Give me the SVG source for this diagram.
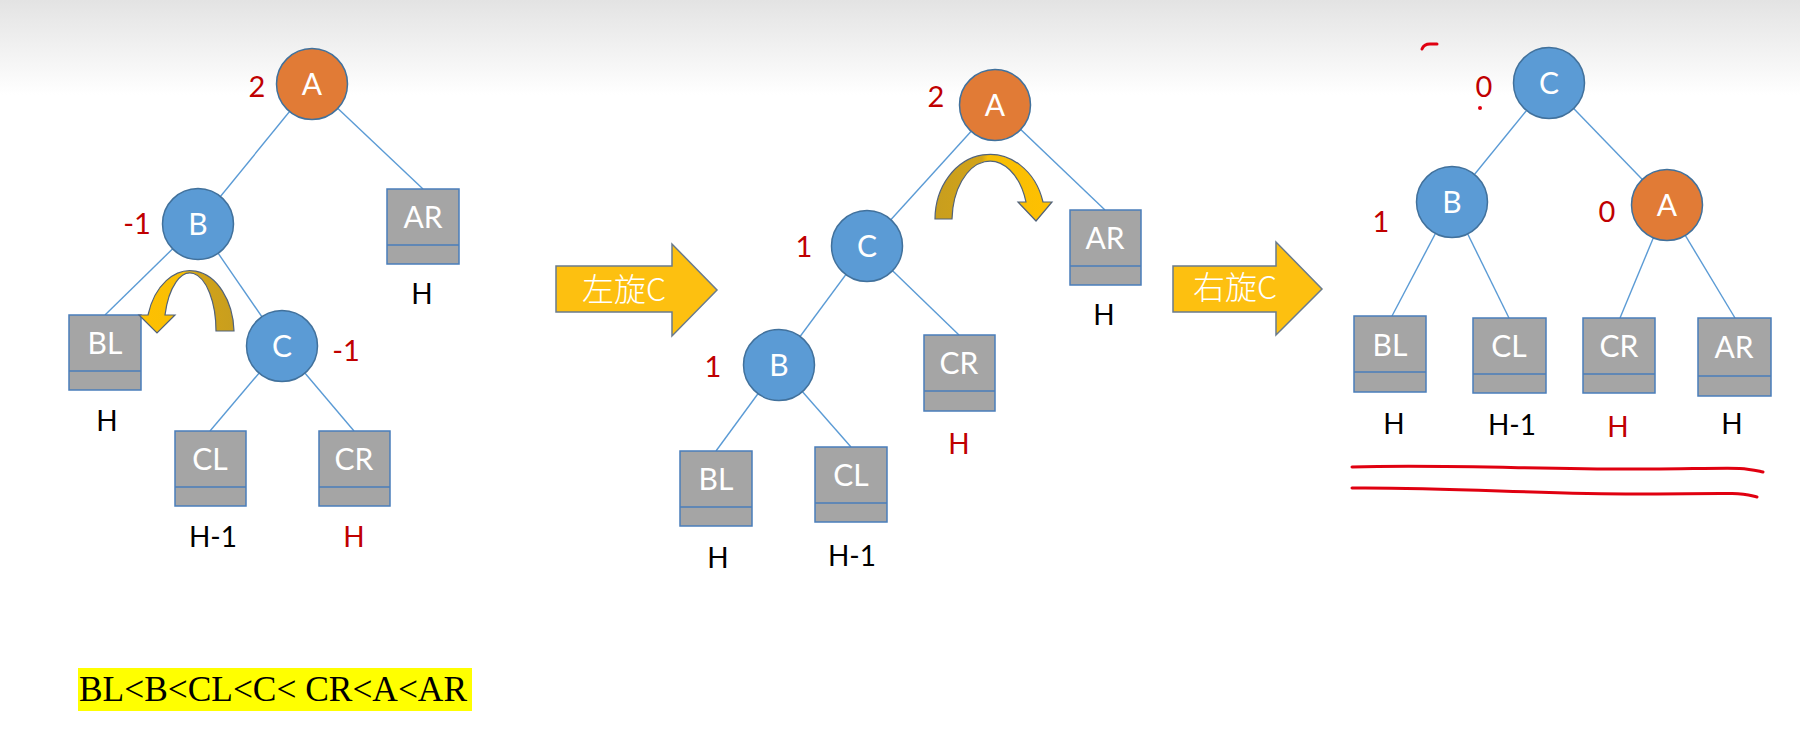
<svg xmlns="http://www.w3.org/2000/svg" width="1800" height="740" viewBox="0 0 1800 740">
<defs>
<linearGradient id="topfade" x1="0" y1="0" x2="0" y2="1">
<stop offset="0" stop-color="#e3e3e3"/>
<stop offset="1" stop-color="#ffffff"/>
</linearGradient>
<linearGradient id="curlL" x1="0" y1="0" x2="1" y2="0">
<stop offset="0" stop-color="#FFC000"/>
<stop offset="0.55" stop-color="#F6BE06"/>
<stop offset="0.6" stop-color="#D2A318"/>
<stop offset="1" stop-color="#C89E1E"/>
</linearGradient>
<linearGradient id="curlR" x1="0" y1="0" x2="1" y2="0">
<stop offset="0" stop-color="#C89E1E"/>
<stop offset="0.4" stop-color="#D2A318"/>
<stop offset="0.45" stop-color="#F6BE06"/>
<stop offset="1" stop-color="#FFC000"/>
</linearGradient>
</defs>
<style>
.edge{stroke:#5B9BD5;stroke-width:1.4;fill:none}
.orange{fill:#E17B36;stroke:#41719C;stroke-width:1.5}
.blue{fill:#5B9BD5;stroke:#41719C;stroke-width:1.5}
.box{fill:#A5A5A5;stroke:#4A7EBB;stroke-width:1.5}
.div{stroke:#4A7EBB;stroke-width:1.5}
.nt{font-family:Lato,"Liberation Sans",sans-serif;font-size:30px;fill:#ffffff;text-anchor:middle}
.bf{font-family:Lato,"Liberation Sans",sans-serif;font-size:29px;fill:#C00000;text-anchor:middle}
.h{font-family:Lato,"Liberation Sans",sans-serif;font-size:28px;fill:#000000;text-anchor:middle}
.hr{font-family:Lato,"Liberation Sans",sans-serif;font-size:28px;fill:#C00000;text-anchor:middle}
.bigarrow{fill:#FDC010;stroke:#6A7B8C;stroke-width:1.5}
.at{font-family:"Noto Sans CJK SC","Noto Sans",sans-serif;font-size:32px;font-weight:300;fill:#ffffff;text-anchor:middle}
.curl{stroke:#51627A;stroke-width:1.2}
.ink{stroke:#E00010;stroke-width:3;fill:none;stroke-linecap:round}
</style>
<rect x="0" y="0" width="1800" height="740" fill="#ffffff"/>
<rect x="0" y="0" width="1800" height="95" fill="url(#topfade)"/>

<g id="connectors">
<line class="edge" x1="312" y1="84" x2="198" y2="224"/>
<line class="edge" x1="312" y1="84" x2="423" y2="189"/>
<line class="edge" x1="198" y1="224" x2="105" y2="315"/>
<line class="edge" x1="198" y1="224" x2="282" y2="346"/>
<line class="edge" x1="282" y1="346" x2="210" y2="431"/>
<line class="edge" x1="282" y1="346" x2="354" y2="431"/>

<line class="edge" x1="995" y1="105" x2="867" y2="246"/>
<line class="edge" x1="995" y1="105" x2="1105" y2="210"/>
<line class="edge" x1="867" y1="246" x2="779" y2="365"/>
<line class="edge" x1="867" y1="246" x2="959" y2="335"/>
<line class="edge" x1="779" y1="365" x2="716" y2="451"/>
<line class="edge" x1="779" y1="365" x2="851" y2="447"/>

<line class="edge" x1="1549" y1="83" x2="1452" y2="202"/>
<line class="edge" x1="1549" y1="83" x2="1667" y2="205"/>
<line class="edge" x1="1452" y1="202" x2="1392" y2="316"/>
<line class="edge" x1="1452" y1="202" x2="1509" y2="318"/>
<line class="edge" x1="1667" y1="205" x2="1620" y2="318"/>
<line class="edge" x1="1667" y1="205" x2="1735" y2="318"/>
</g>

<!-- Tree 1 -->
<g id="t1-A"><circle class="orange" cx="312" cy="84" r="35.5"/><text class="nt" x="312" y="95">A</text><text class="bf" x="257" y="97">2</text></g>
<g id="t1-B"><circle class="blue" cx="198" cy="224" r="35.5"/><text class="nt" x="198" y="235">B</text><text class="bf" x="137" y="234">-1</text></g>
<g id="t1-C"><circle class="blue" cx="282" cy="346" r="35.5"/><text class="nt" x="282" y="357">C</text><text class="bf" x="346" y="361">-1</text></g>
<g id="t1-AR"><rect class="box" x="387" y="189" width="72" height="75"/><line class="div" x1="387" y1="245" x2="459" y2="245"/><text class="nt" x="423" y="228">AR</text><text class="h" x="422" y="304">H</text></g>
<g id="t1-BL"><rect class="box" x="69" y="315" width="72" height="75"/><line class="div" x1="69" y1="371" x2="141" y2="371"/><text class="nt" x="105" y="354">BL</text><text class="h" x="107" y="431">H</text></g>
<g id="t1-CL"><rect class="box" x="175" y="431" width="71" height="75"/><line class="div" x1="175" y1="487" x2="246" y2="487"/><text class="nt" x="210" y="470">CL</text><text class="h" x="213" y="547">H-1</text></g>
<g id="t1-CR"><rect class="box" x="319" y="431" width="71" height="75"/><line class="div" x1="319" y1="487" x2="390" y2="487"/><text class="nt" x="354" y="470">CR</text><text class="hr" x="354" y="547">H</text></g>
<g id="t1-curl"><path class="curl" fill="url(#curlL)" d="M234,331 A44 63 0 0 0 148,315 L139,315 L157,333 L175,315 L165,315 A26 58 0 0 1 216,331 Z"/></g>

<!-- Arrow left rotate -->
<g id="arrow-left-rot"><polygon class="bigarrow" points="556,266 672,266 672,244 717,290 672,336 672,312 556,312"/><text class="at" x="624" y="301">左旋C</text></g>

<!-- Tree 2 -->
<g id="t2-A"><circle class="orange" cx="995" cy="105" r="35.5"/><text class="nt" x="995" y="116">A</text><text class="bf" x="936" y="107">2</text></g>
<g id="t2-C"><circle class="blue" cx="867" cy="246" r="35.5"/><text class="nt" x="867" y="257">C</text><text class="bf" x="804" y="257">1</text></g>
<g id="t2-B"><circle class="blue" cx="779" cy="365" r="35.5"/><text class="nt" x="779" y="376">B</text><text class="bf" x="713" y="377">1</text></g>
<g id="t2-AR"><rect class="box" x="1070" y="210" width="71" height="75"/><line class="div" x1="1070" y1="266" x2="1141" y2="266"/><text class="nt" x="1105" y="249">AR</text><text class="h" x="1104" y="325">H</text></g>
<g id="t2-CR"><rect class="box" x="924" y="335" width="71" height="76"/><line class="div" x1="924" y1="391" x2="995" y2="391"/><text class="nt" x="959" y="374">CR</text><text class="hr" x="959" y="454">H</text></g>
<g id="t2-BL"><rect class="box" x="680" y="451" width="72" height="75"/><line class="div" x1="680" y1="507" x2="752" y2="507"/><text class="nt" x="716" y="490">BL</text><text class="h" x="718" y="568">H</text></g>
<g id="t2-CL"><rect class="box" x="815" y="447" width="72" height="75"/><line class="div" x1="815" y1="503" x2="887" y2="503"/><text class="nt" x="851" y="486">CL</text><text class="h" x="852" y="566">H-1</text></g>
<g id="t2-curl"><path class="curl" fill="url(#curlR)" d="M935,219 A55 65 0 0 1 1043,202 L1052,202 L1036,221 L1018,202 L1026,202 A38 60 0 0 0 952,219 Z"/></g>

<!-- Arrow right rotate -->
<g id="arrow-right-rot"><polygon class="bigarrow" points="1173,266 1276,266 1276,242 1322,289 1276,335 1276,312 1173,312"/><text class="at" x="1235" y="299">右旋C</text></g>

<!-- Tree 3 -->
<g id="t3-C"><circle class="blue" cx="1549" cy="83" r="35.5"/><text class="nt" x="1549" y="94">C</text><text class="bf" x="1484" y="97">0</text></g>
<g id="t3-B"><circle class="blue" cx="1452" cy="202" r="35.5"/><text class="nt" x="1452" y="213">B</text><text class="bf" x="1381" y="232">1</text></g>
<g id="t3-A"><circle class="orange" cx="1667" cy="205" r="35.5"/><text class="nt" x="1667" y="216">A</text><text class="bf" x="1607" y="222">0</text></g>
<g id="t3-BL"><rect class="box" x="1354" y="316" width="72" height="76"/><line class="div" x1="1354" y1="372" x2="1426" y2="372"/><text class="nt" x="1390" y="356">BL</text><text class="h" x="1394" y="434">H</text></g>
<g id="t3-CL"><rect class="box" x="1473" y="318" width="73" height="75"/><line class="div" x1="1473" y1="374" x2="1546" y2="374"/><text class="nt" x="1509" y="357">CL</text><text class="h" x="1512" y="435">H-1</text></g>
<g id="t3-CR"><rect class="box" x="1583" y="318" width="72" height="75"/><line class="div" x1="1583" y1="374" x2="1655" y2="374"/><text class="nt" x="1619" y="357">CR</text><text class="hr" x="1618" y="437">H</text></g>
<g id="t3-AR"><rect class="box" x="1698" y="318" width="73" height="78"/><line class="div" x1="1698" y1="376" x2="1771" y2="376"/><text class="nt" x="1734" y="358">AR</text><text class="h" x="1732" y="434">H</text></g>

<!-- handwritten marks -->
<g id="ink">
<path class="ink" d="M1422,49 Q1424,44 1430,44 L1437,44"/>
<circle cx="1480" cy="108" r="2" fill="#E00010"/>
<path class="ink" d="M1352,467 C1450,464 1550,470 1650,469 S1740,467 1763,472"/>
<path class="ink" d="M1352,488 C1450,487 1550,495 1650,494 S1740,493 1757,497"/>
</g>

<!-- order relation -->
<g id="order">
<rect x="78" y="668" width="394" height="43" fill="#FFFF00"/>
<text x="79" y="701" font-family="'Liberation Serif','Times New Roman',serif" font-size="35" fill="#000000" textLength="388" lengthAdjust="spacingAndGlyphs">BL&lt;B&lt;CL&lt;C&lt; CR&lt;A&lt;AR</text>
</g>
</svg>
